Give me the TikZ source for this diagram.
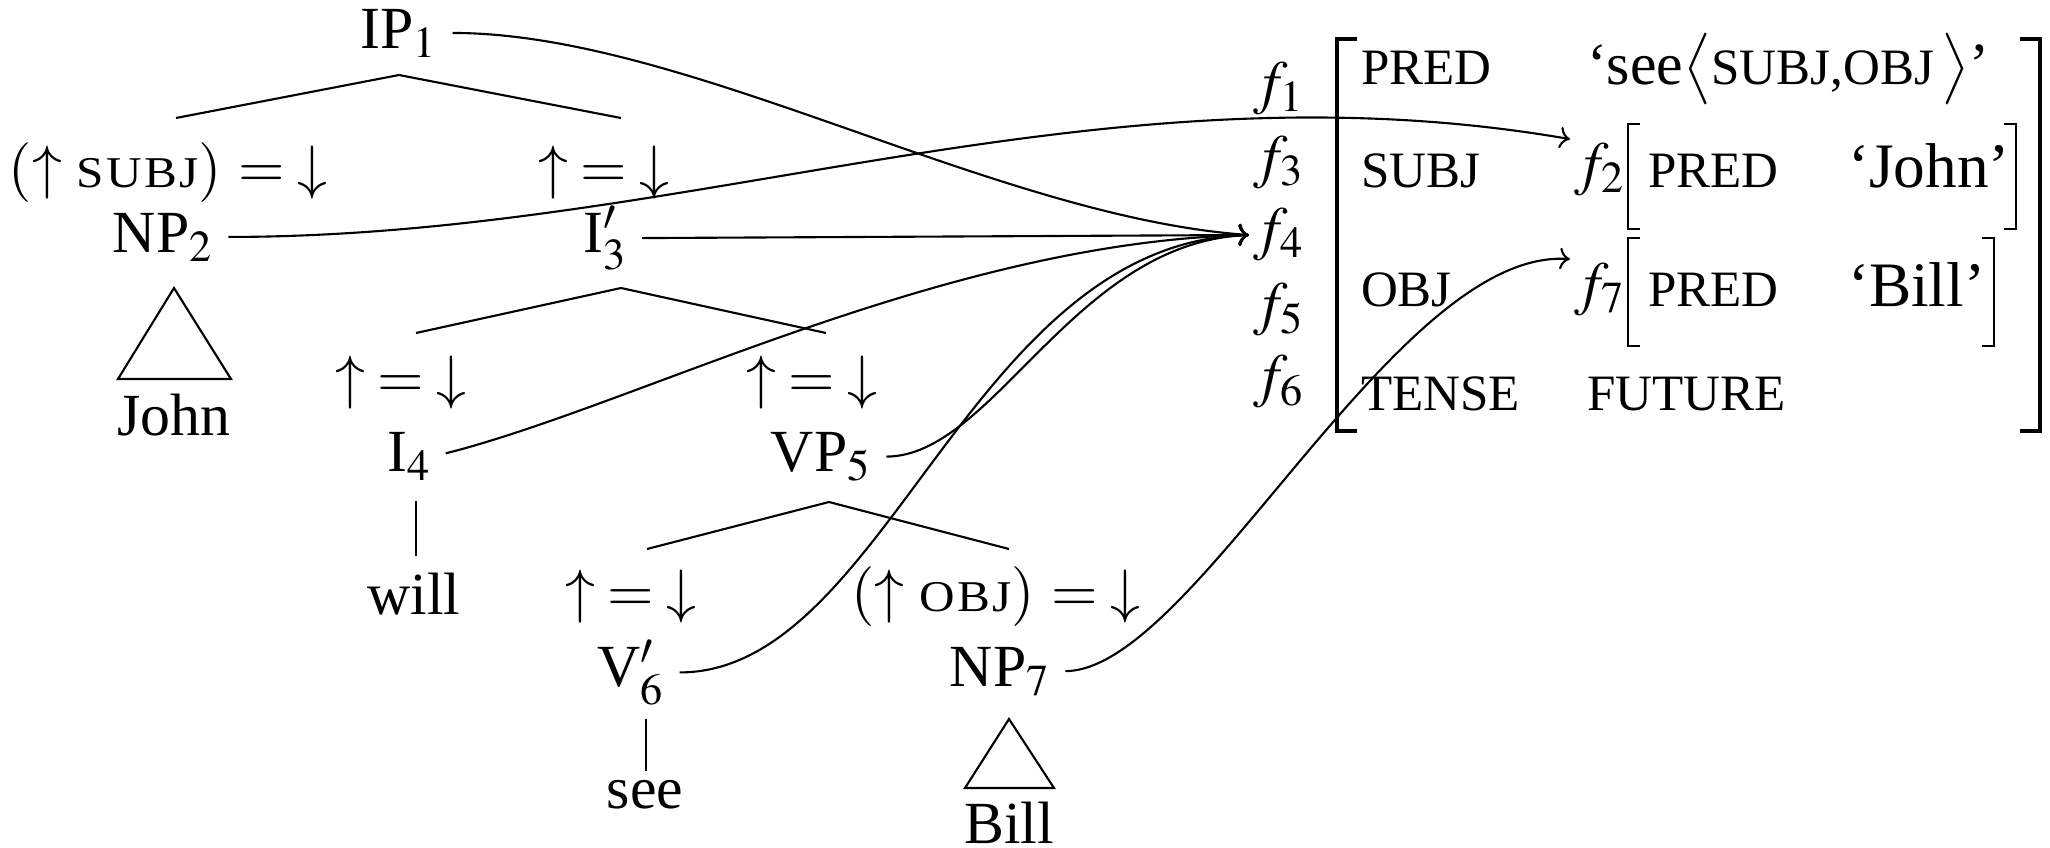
\documentclass[tikz,border=0pt]{standalone}
\usepackage{mathptmx}
\usepackage{fontspec}
\setmainfont{Liberation Serif}
\newfontfamily\lfgcaps[FakeStretch=1.12,LetterSpace=5]{Liberation Serif}
\usetikzlibrary{positioning, arrows.meta, calc}
\newcommand{\tsc}[1]{{\fontsize{12.5}{14}\lfgcaps #1}}
\newcommand{\fsc}[1]{{\fontsize{14.5}{16}\selectfont #1}}
\newcommand{\fval}[1]{{\fontsize{18}{20}\selectfont #1}}
\newcommand{\eqsp}{\hspace{3.5pt}}

\begin{document}
\begin{tikzpicture}[
    x=0.01cm, y=-0.01cm,
    font=\fontsize{17}{20}\selectfont,
    line width=0.6pt,
    cat/.style={anchor=base, inner sep=1pt},
    eqn/.style={anchor=base, inner sep=1pt},
    fvar/.style={anchor=center, inner sep=1pt},
    attr/.style={anchor=base west, inner sep=0pt},
    link/.style={->, line width=0.6pt, shorten <=3pt}
]
    \useasboundingbox (0,0) rectangle (2050,848);

    % c-structure
    \node[cat] (ip1) at (399,48) {IP$_1$};
    \node[eqn] (e2) at (168,187) {$(\uparrow$ \tsc{SUBJ}$)\hspace{1pt}=\eqsp\downarrow$};
    \node[eqn] (e3) at (604,187) {$\uparrow\eqsp=\eqsp\downarrow$};
    \node[cat] (np2) at (163,252) {NP$_2$};
    \node[cat] (i3) at (605,252) {I$'_3$};
    \node[cat] (john) at (174,435) {John};
    \node[eqn] (e4) at (401,397) {$\uparrow\eqsp=\eqsp\downarrow$};
    \node[eqn] (e5) at (812,397) {$\uparrow\eqsp=\eqsp\downarrow$};
    \node[cat] (i4) at (409,471) {I$_4$};
    \node[cat] (vp5) at (821,471) {VP$_5$};
    \node[cat] (will) at (414,614) {will};
    \node[eqn] (e6) at (631,611) {$\uparrow\eqsp=\eqsp\downarrow$};
    \node[eqn] (e7) at (996,611) {$(\uparrow$ \tsc{OBJ}$)\hspace{1pt}=\eqsp\downarrow$};
    \node[cat] (v6) at (631,686) {V$'_6$};
    \node[cat] (np7) at (1000,686) {NP$_7$};
    \node[cat] (see) at (645,808) {see};
    \node[cat] (bill) at (1009,843) {Bill};

    \coordinate (ip1b) at (399,75);
    \coordinate (i3b) at (621,288);
    \coordinate (vp5b) at (829,502);
    \draw (176,118) -- (ip1b) -- (621,118);
    \draw (416,333) -- (i3b) -- (826,333);
    \draw (647,549) -- (vp5b) -- (1009,549);
    \draw (174,288) -- (118,379) -- (231,379) -- cycle;
    \draw (1009,719) -- (965,788) -- (1054,788) -- cycle;
    \draw (416,501) -- (416,556);
    \draw (646,719) -- (646,771);

    % f-structure
    \node[fvar] (f1) at (1279,89) {$f_1$};
    \node[fvar] (f3) at (1279,163) {$f_3$};
    \node[fvar] (f4) at (1279,235) {$f_4$};
    \node[fvar] (f5) at (1279,310) {$f_5$};
    \node[fvar] (f6) at (1279,382) {$f_6$};
    \draw[line width=1.4pt] (1357,39) -- (1337,39) -- (1337,431) -- (1357,431);
    \draw[line width=1.4pt] (2020,39) -- (2040,39) -- (2040,431) -- (2020,431);

    \node[attr] (pred1) at (1360,84) {\fsc{PRED}};
    \node[attr] (seev) at (1586,84) {‘see$\big\langle$\fsc{SUBJ,OBJ}\hspace{2pt}$\big\rangle$’};
    \node[attr] (subj) at (1360,187) {\fsc{SUBJ}};
    \node[fvar] (f2) at (1600,170) {$f_2$};
    \draw (1640,124) -- (1628,124) -- (1628,229) -- (1640,229);
    \draw (2004,124) -- (2016,124) -- (2016,229) -- (2004,229);
    \node[attr] (pred2) at (1647,187) {\fsc{PRED}};
    \node[attr] (johnv) at (1847,187) {\fval{‘John’}};
    \node[attr] (obj) at (1360,306) {\fsc{OBJ}};
    \node[fvar] (f7) at (1600,290) {$f_7$};
    \draw (1640,238) -- (1628,238) -- (1628,346) -- (1640,346);
    \draw (1982,238) -- (1994,238) -- (1994,346) -- (1982,346);
    \node[attr] (pred3) at (1647,306) {\fsc{PRED}};
    \node[attr] (billv) at (1847,306) {\fval{‘Bill’}};
    \node[attr] (tense) at (1360,410) {\fsc{TENSE}};
    \node[attr] (fut) at (1586,410) {\fsc{FUTURE}};

    % projections
    \draw[link] (ip1.east) .. controls +(245,0) and +(-255,-18) .. (f4.west);
    \draw[link] (np2.east) .. controls +(474,0) and +(-475,-82) .. (f2.north west);
    \draw[link] (i3.east) -- (f4.west);
    \draw[link] (i4.east) .. controls +(202,-51) and +(-305,7) .. (f4.west);
    \draw[link] (vp5.east) .. controls +(118,0) and +(-175,7) .. (f4.west);
    \draw[link] (v6.east) .. controls +(218,0) and +(-280,7) .. (f4.west);
    \draw[link] (np7.east) .. controls +(140,0) and +(-175,-12) .. (f7.north west);
\end{tikzpicture}
\end{document}
